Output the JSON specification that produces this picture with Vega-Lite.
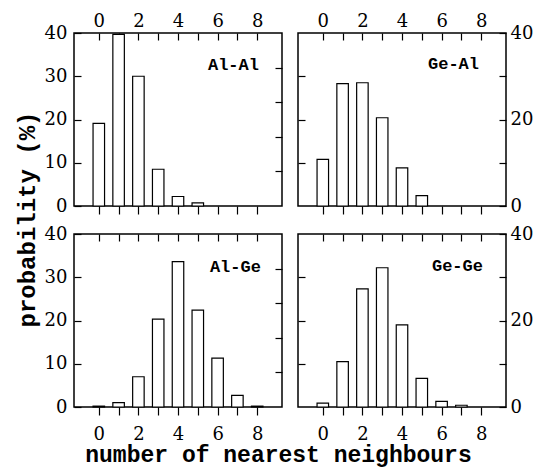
{
  "$schema": "https://vega.github.io/schema/vega-lite/v6.json",
  "background": "white",
  "padding": {"left": 14, "top": 11, "right": 5, "bottom": 0},
  "datasets": {
    "hist": [
      {"pair": "Al-Al", "n": 0, "p": 19.1},
      {"pair": "Al-Al", "n": 1, "p": 39.7},
      {"pair": "Al-Al", "n": 2, "p": 30.0},
      {"pair": "Al-Al", "n": 3, "p": 8.5},
      {"pair": "Al-Al", "n": 4, "p": 2.2},
      {"pair": "Al-Al", "n": 5, "p": 0.7},
      {"pair": "Ge-Al", "n": 0, "p": 10.8},
      {"pair": "Ge-Al", "n": 1, "p": 28.3},
      {"pair": "Ge-Al", "n": 2, "p": 28.5},
      {"pair": "Ge-Al", "n": 3, "p": 20.4},
      {"pair": "Ge-Al", "n": 4, "p": 8.8},
      {"pair": "Ge-Al", "n": 5, "p": 2.4},
      {"pair": "Al-Ge", "n": 0, "p": 0.2},
      {"pair": "Al-Ge", "n": 1, "p": 1.0},
      {"pair": "Al-Ge", "n": 2, "p": 7.0},
      {"pair": "Al-Ge", "n": 3, "p": 20.3},
      {"pair": "Al-Ge", "n": 4, "p": 33.6},
      {"pair": "Al-Ge", "n": 5, "p": 22.4},
      {"pair": "Al-Ge", "n": 6, "p": 11.3},
      {"pair": "Al-Ge", "n": 7, "p": 2.7},
      {"pair": "Al-Ge", "n": 8, "p": 0.2},
      {"pair": "Ge-Ge", "n": 0, "p": 0.9},
      {"pair": "Ge-Ge", "n": 1, "p": 10.5},
      {"pair": "Ge-Ge", "n": 2, "p": 27.3},
      {"pair": "Ge-Ge", "n": 3, "p": 32.2},
      {"pair": "Ge-Ge", "n": 4, "p": 19.0},
      {"pair": "Ge-Ge", "n": 5, "p": 6.6},
      {"pair": "Ge-Ge", "n": 6, "p": 1.3},
      {"pair": "Ge-Ge", "n": 7, "p": 0.4}
    ]
  },
  "columns": 2,
  "spacing": {"row": 28, "column": 16},
  "bounds": "flush",
  "concat": [
    {
      "width": 208, "height": 173,
      "layer": [
        {
          "data": {"name": "hist"},
          "transform": [{"filter": "datum.pair === 'Al-Al'"}],
          "mark": {"type": "bar", "orient": "vertical", "size": 11.5, "fill": "white", "stroke": "black", "strokeWidth": 1.2},
          "encoding": {
            "x": {"field": "n", "type": "quantitative", "scale": {"domain": [-1, 9], "nice": false, "zero": false},
                  "axis": {"orient": "top", "title": null, "values": [0,1,2,3,4,5,6,7,8], "labelExpr": "datum.value % 2 === 0 ? datum.label : ''", "tickSize": -7, "labelPadding": 10}},
            "y": {"field": "p", "type": "quantitative", "scale": {"domain": [0, 40], "nice": false},
                  "axis": {"orient": "left", "values": [0,10,20,30,40], "tickSize": -7, "labelPadding": 14,
                           "title": "probability (%)", "titleFont": "Liberation Mono", "titleFontWeight": "bold", "titleFontSize": 24, "titleColor": "black",
                           "titleAngle": -90, "titleX": -47, "titleY": 186, "titleBaseline": "middle", "titleAlign": "center"}}
          }
        },
        {
          "data": {"values": [{"label": "Al-Al"}]},
          "mark": {"type": "text", "font": "Liberation Mono", "fontWeight": "bold", "fontSize": 17, "color": "black"},
          "encoding": {
            "x": {"datum": 6.8, "type": "quantitative", "axis": {"orient": "bottom", "title": null, "values": [0,1,2,3,4,5,6,7,8], "labels": false, "tickSize": 8}},
            "y": {"datum": 32.5, "type": "quantitative", "axis": {"orient": "right", "title": null, "values": [8,16,24,32], "labels": false, "tickSize": -7}},
            "text": {"field": "label"}
          }
        }
      ],
      "resolve": {"axis": {"x": "independent", "y": "independent"}}
    },
    {
      "width": 208, "height": 173,
      "layer": [
        {
          "data": {"name": "hist"},
          "transform": [{"filter": "datum.pair === 'Ge-Al'"}],
          "mark": {"type": "bar", "orient": "vertical", "size": 11.5, "fill": "white", "stroke": "black", "strokeWidth": 1.2},
          "encoding": {
            "x": {"field": "n", "type": "quantitative", "scale": {"domain": [-1, 9], "nice": false, "zero": false},
                  "axis": {"orient": "top", "title": null, "values": [0,1,2,3,4,5,6,7,8], "labelExpr": "datum.value % 2 === 0 ? datum.label : ''", "tickSize": -7, "labelPadding": 10}},
            "y": {"field": "p", "type": "quantitative", "scale": {"domain": [0, 40], "nice": false},
                  "axis": {"orient": "left", "title": null, "values": [10,20,30], "labels": false, "tickSize": -7}}
          }
        },
        {
          "data": {"values": [{"label": "Ge-Al"}]},
          "mark": {"type": "text", "font": "Liberation Mono", "fontWeight": "bold", "fontSize": 17, "color": "black"},
          "encoding": {
            "x": {"datum": 6.6, "type": "quantitative", "axis": {"orient": "bottom", "title": null, "values": [0,1,2,3,4,5,6,7,8], "labels": false, "tickSize": 8}},
            "y": {"datum": 32.8, "type": "quantitative", "axis": {"orient": "right", "title": null, "values": [0,10,20,30,40], "labelExpr": "datum.value % 20 === 0 ? datum.label : ''", "tickSize": -7, "labelPadding": 11}},
            "text": {"field": "label"}
          }
        }
      ],
      "resolve": {"axis": {"x": "independent", "y": "independent"}}
    },
    {
      "width": 208, "height": 173,
      "layer": [
        {
          "data": {"name": "hist"},
          "transform": [{"filter": "datum.pair === 'Al-Ge'"}],
          "mark": {"type": "bar", "orient": "vertical", "size": 11.5, "fill": "white", "stroke": "black", "strokeWidth": 1.2},
          "encoding": {
            "x": {"field": "n", "type": "quantitative", "scale": {"domain": [-1, 9], "nice": false, "zero": false},
                  "axis": {"orient": "bottom", "values": [0,1,2,3,4,5,6,7,8], "labelExpr": "datum.value % 2 === 0 ? datum.label : ''", "tickSize": 8, "labelPadding": 10,
                           "title": "number of nearest neighbours", "titleFont": "Liberation Mono", "titleFontWeight": "bold", "titleFontSize": 23, "titleColor": "black",
                           "titleX": 204, "titleY": 54, "titleBaseline": "alphabetic", "titleAlign": "center"}},
            "y": {"field": "p", "type": "quantitative", "scale": {"domain": [0, 40], "nice": false},
                  "axis": {"orient": "left", "title": null, "values": [0,10,20,30,40], "tickSize": -7, "labelPadding": 14}}
          }
        },
        {
          "data": {"values": [{"label": "Al-Ge"}]},
          "mark": {"type": "text", "font": "Liberation Mono", "fontWeight": "bold", "fontSize": 17, "color": "black"},
          "encoding": {
            "x": {"datum": 6.9, "type": "quantitative", "axis": {"orient": "top", "title": null, "values": [0,1,2,3,4,5,6,7,8], "labels": false, "tickSize": -7}},
            "y": {"datum": 32.3, "type": "quantitative", "axis": {"orient": "right", "title": null, "values": [8,16,24,32], "labels": false, "tickSize": -7}},
            "text": {"field": "label"}
          }
        }
      ],
      "resolve": {"axis": {"x": "independent", "y": "independent"}}
    },
    {
      "width": 208, "height": 173,
      "layer": [
        {
          "data": {"name": "hist"},
          "transform": [{"filter": "datum.pair === 'Ge-Ge'"}],
          "mark": {"type": "bar", "orient": "vertical", "size": 11.5, "fill": "white", "stroke": "black", "strokeWidth": 1.2},
          "encoding": {
            "x": {"field": "n", "type": "quantitative", "scale": {"domain": [-1, 9], "nice": false, "zero": false},
                  "axis": {"orient": "bottom", "title": null, "values": [0,1,2,3,4,5,6,7,8], "labelExpr": "datum.value % 2 === 0 ? datum.label : ''", "tickSize": 8, "labelPadding": 10}},
            "y": {"field": "p", "type": "quantitative", "scale": {"domain": [0, 40], "nice": false},
                  "axis": {"orient": "left", "title": null, "values": [10,20,30], "labels": false, "tickSize": -7}}
          }
        },
        {
          "data": {"values": [{"label": "Ge-Ge"}]},
          "mark": {"type": "text", "font": "Liberation Mono", "fontWeight": "bold", "fontSize": 17, "color": "black"},
          "encoding": {
            "x": {"datum": 6.8, "type": "quantitative", "axis": {"orient": "top", "title": null, "values": [0,1,2,3,4,5,6,7,8], "labels": false, "tickSize": -7}},
            "y": {"datum": 32.5, "type": "quantitative", "axis": {"orient": "right", "title": null, "values": [0,10,20,30,40], "labelExpr": "datum.value % 20 === 0 ? datum.label : ''", "tickSize": -7, "labelPadding": 11}},
            "text": {"field": "label"}
          }
        }
      ],
      "resolve": {"axis": {"x": "independent", "y": "independent"}}
    }
  ],
  "config": {
    "view": {"stroke": "black", "strokeWidth": 1.5},
    "axis": {"domain": false, "grid": false, "labelFont": "DejaVu Serif", "labelFontSize": 18, "labelColor": "black",
             "tickColor": "black", "tickWidth": 1.2, "labelFlush": false, "labelOverlap": false}
  }
}
